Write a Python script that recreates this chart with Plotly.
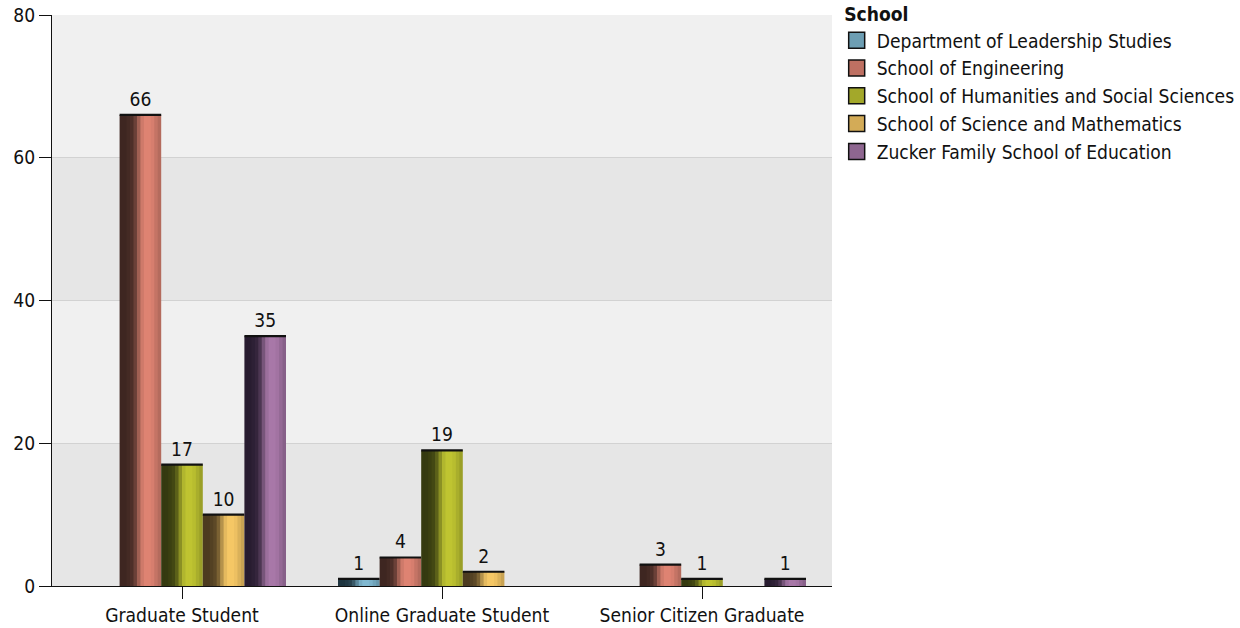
import plotly.graph_objects as go

categories = ["Graduate Student", "Online Graduate Student", "Senior Citizen Graduate"]
series_names = [
    "Department of Leadership Studies",
    "School of Engineering",
    "School of Humanities and Social Sciences",
    "School of Science and Mathematics",
    "Zucker Family School of Education",
]
leadership = [None, 1, None]
engineering = [66, 4, 3]
humanities = [17, 19, 1]
science = [10, 2, None]
zucker = [35, None, 1]
series_values = [leadership, engineering, humanities, science, zucker]
y_ticks = [0, 20, 40, 60, 80]

dark_colors = ["#1f3540", "#3e2621", "#353a10", "#4c3b20", "#281c30"]
light_colors = ["#80b8d0", "#de8372", "#bfc431", "#f5c765", "#a878a8"]
profile = [0.0, 0.0, 0.04, 0.1, 0.28, 0.62, 0.9, 1.0, 1.0, 0.95, 0.84, 0.74]

FONT = "DejaVu Sans Condensed, DejaVu Sans, sans-serif"
FS = 19.1


def hex2rgb(h):
    h = h.lstrip("#")
    return [int(h[i:i + 2], 16) for i in (0, 2, 4)]


def mix(a, b, w):
    ra, rb = hex2rgb(a), hex2rgb(b)
    c = [round(ra[k] + (rb[k] - ra[k]) * w) for k in range(3)]
    return "rgb(%d,%d,%d)" % tuple(c)


fig = go.Figure()
group_w = 0.8
slot = group_w / len(series_names)
n = len(profile)
strip = slot / n

for i, (name, vals) in enumerate(zip(series_names, series_values)):
    start = -group_w / 2 + i * slot
    for j, w in enumerate(profile):
        width = strip * (1.0 if j == n - 1 else 1.25)
        fig.add_trace(go.Bar(
            x=categories, y=vals, offset=start + j * strip, width=width,
            marker=dict(color=mix(dark_colors[i], light_colors[i], w), line=dict(width=0)),
            showlegend=False, legendgroup=name, hoverinfo="skip",
        ))
    # top cap line + value label
    caps = [None if v is None else 0.3 for v in vals]
    bases = [None if v is None else v - 0.15 for v in vals]
    fig.add_trace(go.Bar(
        x=categories, y=caps, base=bases, offset=start, width=slot,
        marker=dict(color="#111111", line=dict(width=0)),
        text=[None if v is None else str(v) for v in vals],
        textposition="outside", textfont=dict(size=FS, color="#111111", family=FONT),
        cliponaxis=False, showlegend=False, legendgroup=name, hoverinfo="skip",
    ))
    # legend entry
    fig.add_trace(go.Scatter(
        x=[None], y=[None], name=name, legendgroup=name, mode="markers",
        marker=dict(symbol="square", size=16,
                    color=mix(dark_colors[i], light_colors[i], 0.8),
                    line=dict(color="#111111", width=1.5)),
        showlegend=True,
    ))

shapes = []
for k in range(len(y_ticks) - 1):
    if k % 2 == 0:
        shapes.append(dict(type="rect", xref="paper", yref="y", x0=0, x1=1,
                           y0=y_ticks[k], y1=y_ticks[k + 1],
                           fillcolor="#e6e6e6", line=dict(width=0), layer="below"))

fig.update_layout(
    width=1240, height=628,
    margin=dict(l=52, r=408, t=15, b=42, autoexpand=False),
    barmode="overlay",
    paper_bgcolor="white",
    plot_bgcolor="#f0f0f0",
    font=dict(family=FONT, size=FS, color="#111111"),
    shapes=shapes,
    legend=dict(
        title=dict(text="&nbsp;<b>School</b>", font=dict(size=FS, family=FONT)),
        x=1.006, xanchor="left", y=1.0326, yanchor="top",
        font=dict(size=FS, family=FONT),
        traceorder="grouped", tracegroupgap=0,
        itemsizing="trace",
        bgcolor="rgba(0,0,0,0)",
    ),
    xaxis=dict(
        type="category", categoryorder="array", categoryarray=categories,
        showgrid=False, showline=True, linecolor="#111111", linewidth=1,
        ticks="outside", ticklen=12, tickcolor="#111111", automargin=False,
        tickfont=dict(size=FS, family=FONT), range=[-0.5, 2.5],
    ),
    yaxis=dict(
        range=[0, 80], tickvals=y_ticks, showgrid=True, gridcolor="#d2d2d2", gridwidth=1,
        showline=True, linecolor="#111111", linewidth=1, automargin=False,
        ticks="outside", ticklen=12, tickcolor="#111111",
        tickfont=dict(size=FS, family=FONT), zeroline=False,
    ),
    bargap=0.2,
)

# remove the default 8px page margin so the figure sits at the window's corner
fig.write_html("out.html", config={"displayModeBar": False},
               post_script="document.body.style.margin='0';")
